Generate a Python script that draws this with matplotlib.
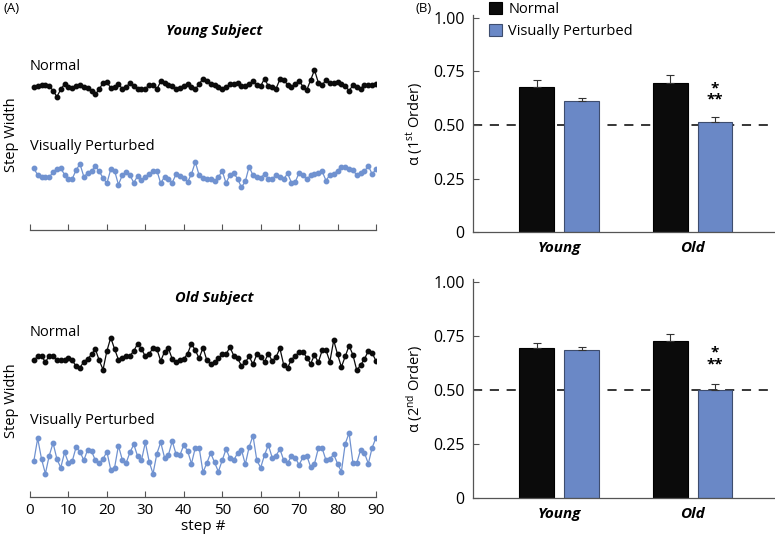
import matplotlib
matplotlib.use('Agg')
import matplotlib.pyplot as plt
import numpy as np

plt.rcParams['font.family'] = ['Open Sans', 'DejaVu Sans']
plt.rcParams['mathtext.fontset'] = 'custom'
plt.rcParams['mathtext.rm'] = 'Open Sans'
plt.rcParams['mathtext.it'] = 'Open Sans:italic'

W, H = 775, 535

def px(x, y):
    # pixel position (from top-left) -> figure fraction
    return x / W, 1 - y / H

# ---- (A) step width traces, arbitrary units ----
steps = np.arange(1, 91)
young_normal = [68, 73, 76, 76, 72, 58, 40, 62, 78, 70, 66, 72, 76, 68, 66, 58, 47, 62, 82, 84,
                66, 68, 78, 64, 70, 80, 72, 63, 63, 64, 75, 74, 62, 86, 80, 75, 72, 64, 66, 72,
                78, 70, 62, 78, 94, 86, 78, 76, 70, 62, 68, 78, 78, 80, 72, 72, 78, 86, 74, 72,
                94, 72, 68, 64, 92, 90, 76, 68, 78, 88, 70, 60, 90, 120, 82, 75, 90, 82, 80, 84,
                78, 72, 58, 74, 70, 64, 76, 76, 76, 78]
young_vp = [95, 75, 70, 68, 68, 84, 94, 95, 76, 64, 64, 90, 108, 70, 80, 86, 102, 86, 66, 50,
            92, 88, 46, 74, 84, 74, 52, 72, 60, 70, 78, 86, 88, 50, 70, 64, 52, 78, 72, 66,
            54, 78, 114, 74, 66, 64, 62, 56, 68, 88, 50, 76, 80, 64, 38, 56, 100, 74, 70, 66,
            78, 64, 64, 74, 70, 62, 80, 52, 54, 82, 74, 62, 74, 78, 82, 86, 58, 76, 78, 88,
            100, 98, 92, 90, 74, 80, 86, 102, 78, 92]
old_normal = [44, 56, 58, 38, 58, 56, 44, 46, 46, 52, 44, 26, 22, 40, 48, 62, 78, 44, 16, 72,
              112, 78, 46, 50, 58, 58, 72, 94, 78, 56, 64, 80, 78, 42, 70, 80, 48, 40, 46, 48,
              64, 94, 74, 50, 82, 44, 32, 38, 50, 62, 62, 84, 58, 50, 28, 38, 56, 32, 62, 54,
              40, 64, 42, 54, 80, 30, 22, 46, 58, 68, 70, 52, 34, 60, 38, 74, 74, 40, 104, 62,
              24, 56, 88, 60, 14, 30, 48, 72, 66, 42]
old_vp = [42, 110, 48, 4, 58, 96, 48, 22, 68, 36, 42, 84, 70, 44, 76, 72, 44, 36, 48, 70,
          16, 22, 88, 46, 36, 68, 92, 56, 44, 98, 40, 4, 64, 98, 52, 60, 102, 62, 60, 90,
          72, 34, 82, 82, 8, 36, 66, 38, 10, 44, 78, 50, 44, 66, 76, 32, 84, 118, 44, 22,
          60, 90, 52, 58, 78, 44, 36, 56, 52, 30, 54, 58, 24, 34, 80, 80, 44, 48, 62, 34,
          10, 94, 126, 36, 36, 76, 66, 34, 82, 112]
step_ticks = list(range(0, 91, 10))

# ---- (B) DFA alpha exponents ----
groups = ['Young', 'Old']
first_normal = [0.675, 0.694]
first_normal_err = [0.033, 0.040]
first_vp = [0.612, 0.512]
first_vp_err = [0.012, 0.024]
second_normal = [0.694, 0.728]
second_normal_err = [0.023, 0.030]
second_vp = [0.685, 0.500]
second_vp_err = [0.013, 0.029]
alpha_ticks = [0, 0.25, 0.5, 0.75, 1.0]
alpha_ticklabels = ['0', '0.25', '0.50', '0.75', '1.00']

BLACK = '#0b0b0b'
BLUE = '#6a88c6'
TRACE_BLUE = '#7092d0'
SPINE = '#555555'

fig = plt.figure(figsize=(W / 100, H / 100), dpi=100)

def trace_axes(rect, normal, vp, offs, text_y, title, title_y, show_labels):
    ax = fig.add_axes(rect)
    ax.plot(steps, np.array(normal) + offs[0], '-o', color=BLACK, lw=0.9, ms=3.2)
    ax.plot(steps, np.array(vp) + offs[1], '-o', color=TRACE_BLUE, lw=0.9, ms=3.2)
    ax.set_xlim(0, 90)
    ax.set_ylim(0, rect[3] * H * 3)
    for s in ['top', 'right', 'left']:
        ax.spines[s].set_visible(False)
    ax.spines['bottom'].set_color(SPINE)
    ax.spines['bottom'].set_linewidth(0.9)
    ax.set_yticks([])
    ax.set_xticks(step_ticks)
    ax.tick_params(axis='x', direction='in', length=4, color=SPINE, labelsize=11,
                   labelbottom=show_labels, pad=4)
    ax.text(0, text_y[0], 'Normal', fontsize=10.5, va='center')
    ax.text(0, text_y[1], 'Visually Perturbed', fontsize=10.5, va='center')
    ax.set_ylabel('Step Width', fontsize=10.5, labelpad=8)
    fig.text(*px(214, title_y), title, fontsize=10.5, weight='bold', style='italic',
             ha='center', va='center')
    return ax

axY = trace_axes([30 / W, 1 - 230 / H, 346 / W, 190 / H], young_normal, young_vp,
                 (360, 90), (489, 249), 'Young Subject', 31, False)
axO = trace_axes([30 / W, 1 - 497 / H, 346 / W, 192 / H], old_normal, old_vp,
                 (366, 66), (492, 228), 'Old Subject', 298, True)
axO.set_xlabel('step #', fontsize=11, labelpad=1)

xg = np.array([1.0, 2.0])
off, bw = 0.169, 0.263

def bar_axes(rect, normal, nerr, vp, verr, ylab, star_y):
    ax = fig.add_axes(rect)
    ax.axhline(0.5, color='black', lw=1.1, ls=(0, (6, 5)), zorder=0)
    ekw = dict(elinewidth=0.8, ecolor='#333333', capthick=0.8)
    ax.bar(xg - off, normal, bw, color=BLACK, edgecolor='black', lw=0.8,
           yerr=[np.zeros(2), nerr], capsize=3, error_kw=ekw, zorder=2, label='Normal')
    ax.bar(xg + off, vp, bw, color=BLUE, edgecolor='#3e4d6e', lw=0.8,
           yerr=[np.zeros(2), verr], capsize=3, error_kw=ekw, zorder=2,
           label='Visually Perturbed')
    ax.text(xg[1] + off, star_y, '*\n**', ha='center', va='center', fontsize=11,
            weight='bold', linespacing=0.75)
    ax.set_xlim(0.35, 2.62)
    ax.set_ylim(0, 1.012)
    for s in ['top', 'right']:
        ax.spines[s].set_visible(False)
    for s in ['left', 'bottom']:
        ax.spines[s].set_color(SPINE)
        ax.spines[s].set_linewidth(0.9)
    ax.set_yticks(alpha_ticks)
    ax.set_yticklabels(alpha_ticklabels)
    ax.tick_params(axis='y', direction='in', length=4, color=SPINE, labelsize=11.5, pad=6)
    ax.set_xticks(xg)
    ax.set_xticklabels(groups, fontsize=11, weight='bold', style='italic')
    ax.tick_params(axis='x', length=0, pad=6)
    ax.set_ylabel(ylab, fontsize=10.5, labelpad=6)
    return ax

ax1 = bar_axes([473 / W, 1 - 232.3 / H, 302 / W, 1.012 * 214.7 / H],
               first_normal, first_normal_err, first_vp, first_vp_err,
               r'α (1$^{\rm st}$ Order)', 0.645)
ax2 = bar_axes([473 / W, 1 - 498.3 / H, 302 / W, 1.012 * 216.6 / H],
               second_normal, second_normal_err, second_vp, second_vp_err,
               r'α (2$^{\rm nd}$ Order)', 0.645)

fig.legend(*ax1.get_legend_handles_labels(), loc='upper left',
           bbox_to_anchor=px(479, -8), frameon=False, fontsize=10.5,
           handlelength=0.9, handleheight=0.9, handletextpad=0.4,
           labelspacing=0.45, borderpad=0.2)

fig.text(*px(3, 9), '(A)', fontsize=9.5, va='center')
fig.text(*px(415, 9), '(B)', fontsize=9.5, va='center')

fig.savefig('out.png', dpi=100)
